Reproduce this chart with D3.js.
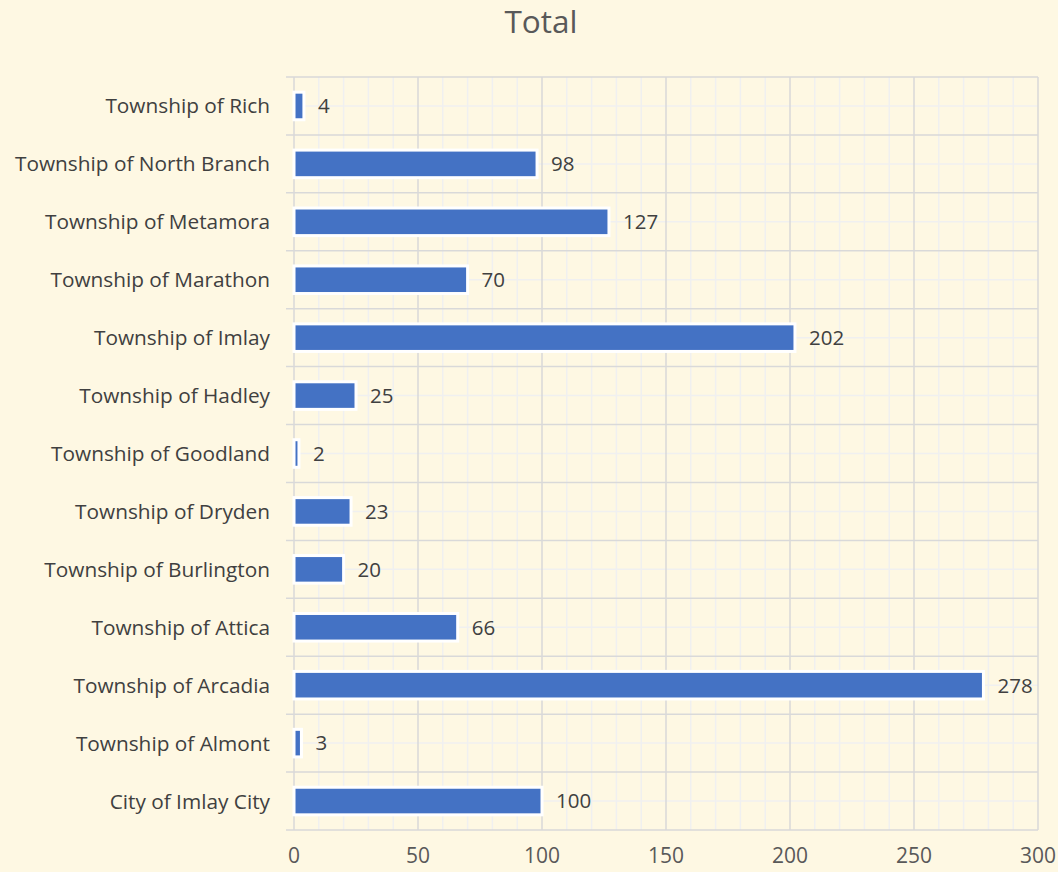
<!DOCTYPE html>
<html><head><meta charset="utf-8">
<script src="https://cdn.jsdelivr.net/npm/d3@7"></script>
<style>body{margin:0;background:#FEF8E3;}svg{display:block;}</style>
</head><body>
<svg id="c" width="1058" height="872"></svg>
<script>
const categories = ["Township of Rich","Township of North Branch","Township of Metamora","Township of Marathon","Township of Imlay","Township of Hadley","Township of Goodland","Township of Dryden","Township of Burlington","Township of Attica","Township of Arcadia","Township of Almont","City of Imlay City"];
const values = [4,98,127,70,202,25,2,23,20,66,278,3,100];
const xTicks = [0,50,100,150,200,250,300];
const title = "Total";

const svg = d3.select("#c");
const font = "'Open Sans', sans-serif";
svg.append("rect").attr("width",1058).attr("height",872).attr("fill","#FEF8E3");
const L=294,R=1038,T=77,B=830;
const x = d3.scaleLinear().domain([0,300]).range([L,R]);
const y = d3.scaleBand().domain(categories).range([T,B]).paddingInner(0).paddingOuter(0);
const g = svg.append("g");
g.selectAll(".mv").data(d3.range(0,301,10).filter(v=>v%50!==0)).join("line")
 .attr("x1",d=>x(d)).attr("x2",d=>x(d)).attr("y1",T).attr("y2",B).attr("stroke","#F0F0F0").attr("stroke-width",1.5);
g.selectAll(".mh").data(categories).join("line")
 .attr("x1",L).attr("x2",R).attr("y1",d=>y(d)+y.bandwidth()/2).attr("y2",d=>y(d)+y.bandwidth()/2).attr("stroke","#F0F0F0").attr("stroke-width",1.5);
g.selectAll(".Mv").data(xTicks).join("line")
 .attr("x1",d=>x(d)).attr("x2",d=>x(d)).attr("y1",T).attr("y2",B).attr("stroke","#D9D9D9").attr("stroke-width",1.5);
const bounds = categories.map(c=>y(c)).concat([B]);
g.selectAll(".Mh").data(bounds).join("line")
 .attr("x1",L-8).attr("x2",R).attr("y1",d=>d).attr("y2",d=>d).attr("stroke","#D9D9D9").attr("stroke-width",1.5);

const bh = y.bandwidth()/2.1;
svg.selectAll(".bar").data(categories).join("rect")
 .attr("x",x(0)).attr("y",d=>y(d)+(y.bandwidth()-bh)/2)
 .attr("width",(d,i)=>x(values[i])-x(0)).attr("height",bh)
 .attr("fill","#4472C4").attr("stroke","#FFFFFF").attr("stroke-width",3);

svg.selectAll(".dl").data(categories).join("text")
 .attr("x",(d,i)=>x(values[i])+14).attr("y",d=>y(d)+y.bandwidth()/2)
 .attr("dy","0.36em").attr("fill","#404040").attr("font-family",font).attr("font-size",20.5)
 .text((d,i)=>values[i]);

svg.selectAll(".cl").data(categories).join("text")
 .attr("x",270).attr("y",d=>y(d)+y.bandwidth()/2).attr("dy","0.36em")
 .attr("text-anchor","end").attr("fill","#404040").attr("font-family",font).attr("font-size",20.8)
 .text(d=>d);

svg.selectAll(".xl").data(xTicks).join("text")
 .attr("x",d=>x(d)).attr("y",863).attr("text-anchor","middle")
 .attr("fill","#595959").attr("font-family",font).attr("font-size",21)
 .text(d=>d);

svg.append("text").attr("x",541).attr("y",33).attr("text-anchor","middle")
 .attr("fill","#595959").attr("font-family",font).attr("font-size",31.5).text(title);
</script>
</body></html>
